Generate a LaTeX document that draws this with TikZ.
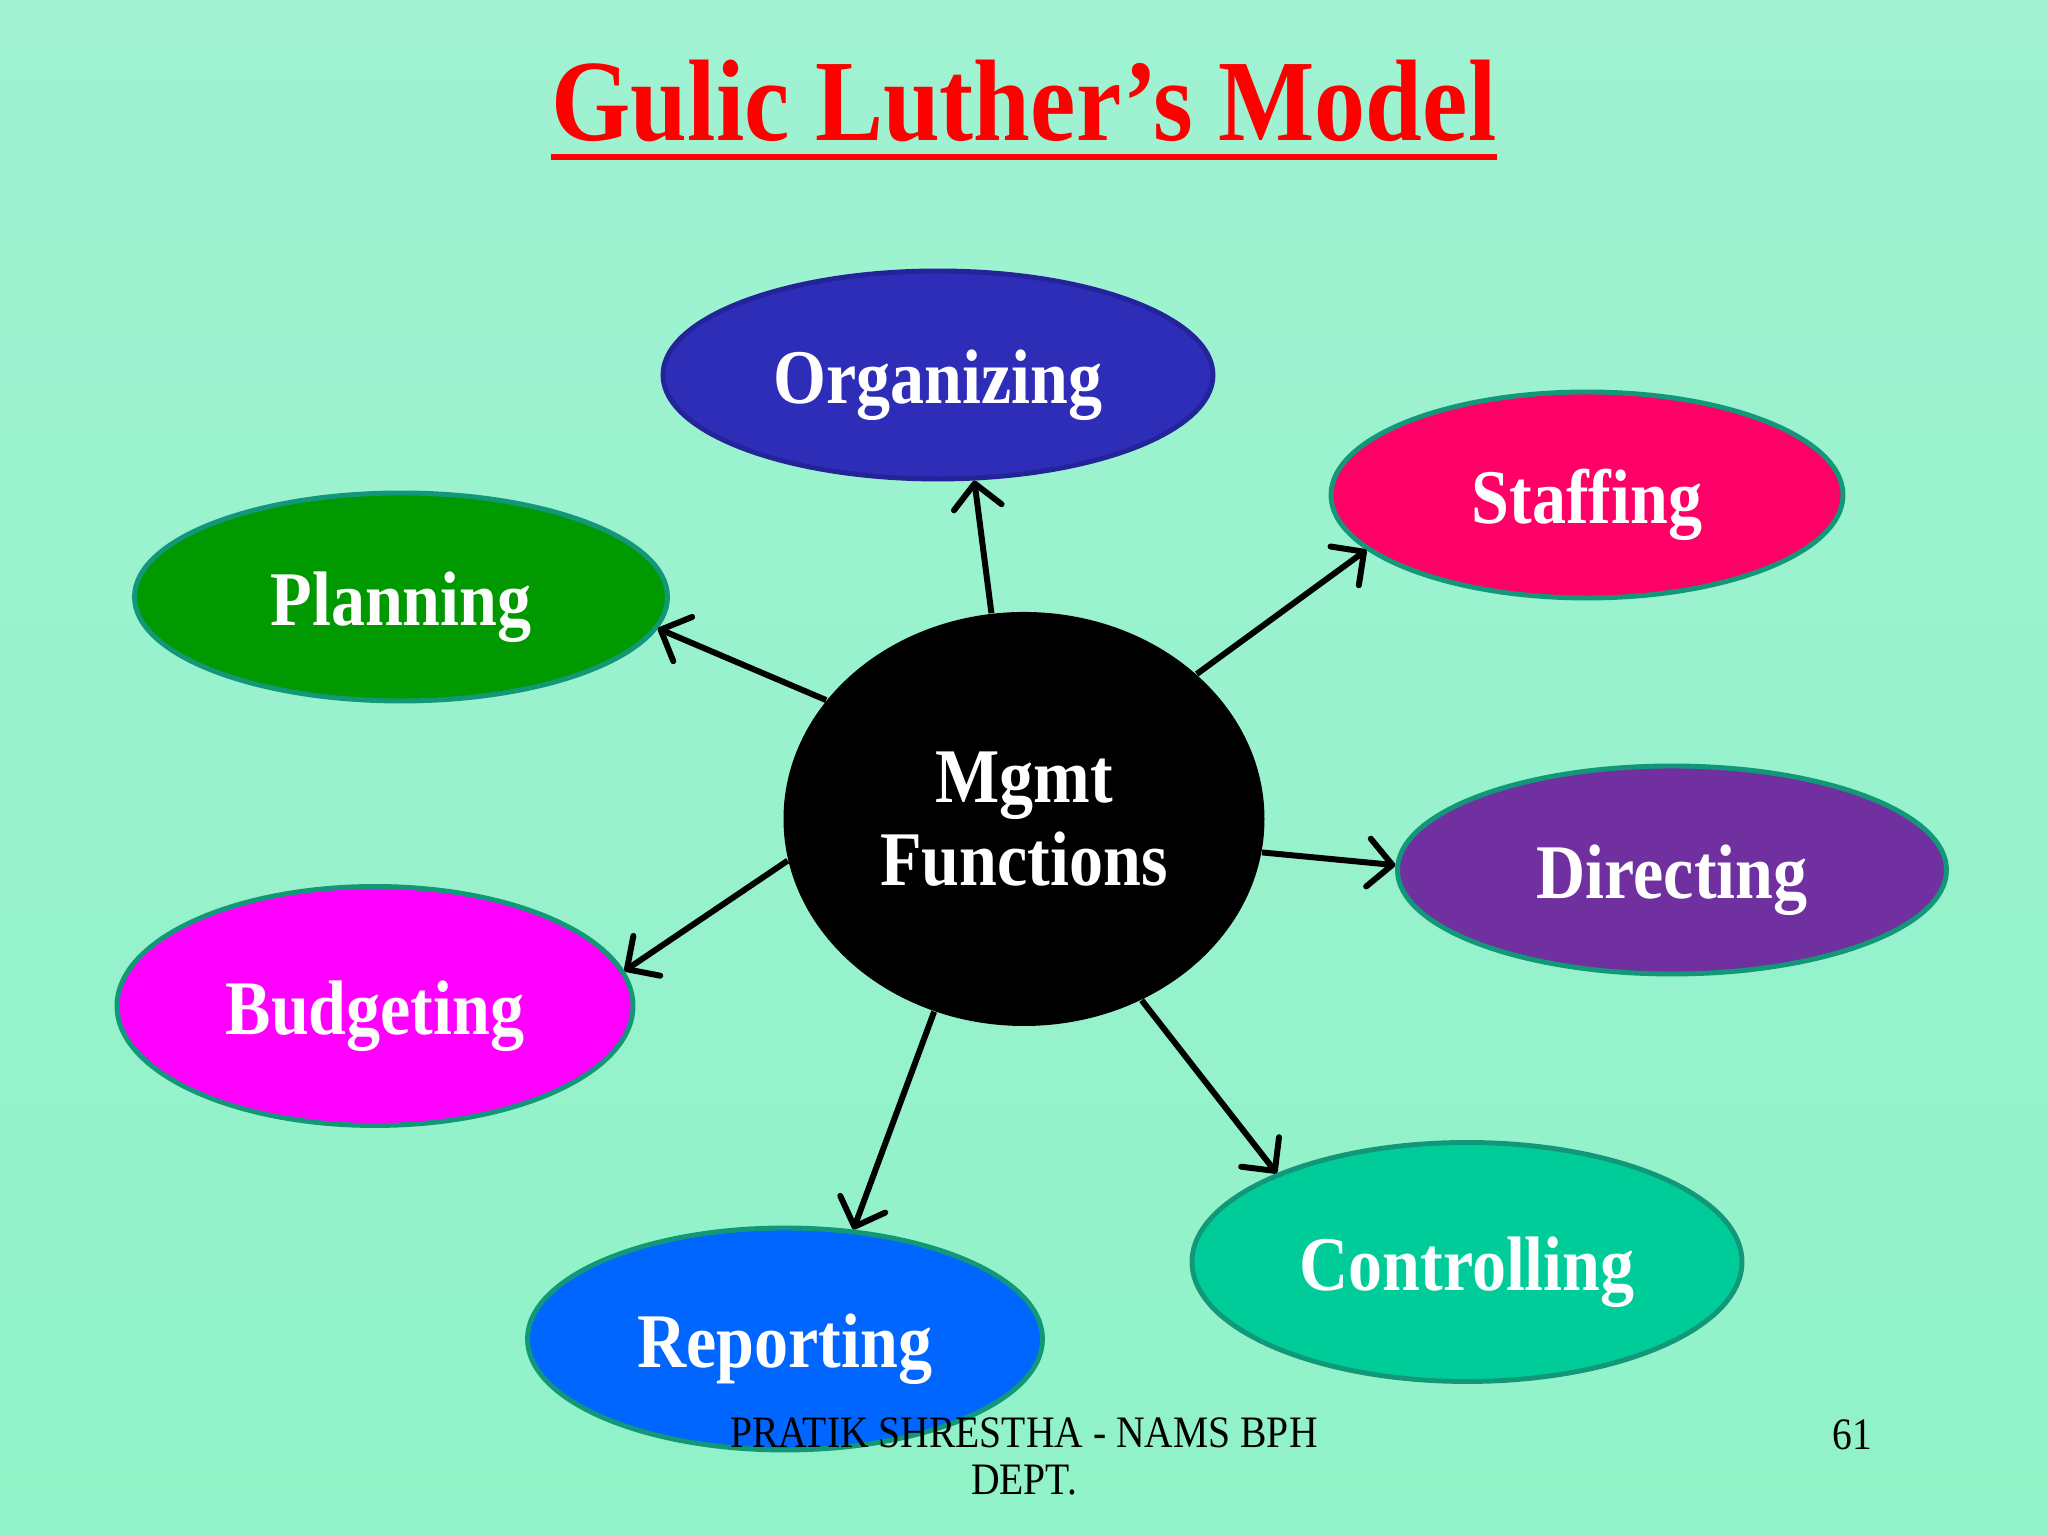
\documentclass[tikz,border=0pt]{standalone}
\usepackage{fontspec}
\setmainfont{Liberation Serif}[FakeStretch=0.88]
\usetikzlibrary{shapes.geometric,arrows.meta}
\definecolor{bgtop}{HTML}{A0F2D2}
\definecolor{bgbot}{HTML}{90F2C8}
\definecolor{rim}{HTML}{129878}
\definecolor{orgfill}{HTML}{2E2DB8}
\definecolor{orgrim}{HTML}{23239A}
\definecolor{stafffill}{HTML}{FF0066}
\definecolor{planfill}{HTML}{009900}
\definecolor{dirfill}{HTML}{7030A0}
\definecolor{budfill}{HTML}{FF00FF}
\definecolor{ctrlfill}{HTML}{00CC99}
\definecolor{repfill}{HTML}{0066FF}
\tikzset{
  func/.style={ellipse,draw=rim,line width=1.4pt,text=white,inner sep=0pt,
    text height=0.58cm,text depth=0pt,font=\fontsize{22}{24}\selectfont\bfseries},
  link/.style={-{Straight Barb[length=2.4mm,width=4.8mm,round]},line width=1.7pt}
}

\begin{document}
\begin{tikzpicture}
\shade [top color=bgtop,bottom color=bgbot] (0,0) rectangle (20.48,15.36);
\useasboundingbox (0,0) rectangle (20.48,15.36);

\node [anchor=base,inner sep=0pt,text=red,font=\fontsize{33}{36}\selectfont\bfseries] at (10.24,13.95) (title) {Gulic Luther’s Model};
\draw [red,line width=1.8pt] ([yshift=-0.16cm]title.base west) -- ([yshift=-0.16cm]title.base east);

\node [ellipse,fill=black,minimum width=4.81cm,minimum height=4.14cm,text=white,align=center,
  font=\fontsize{22}{23.5}\selectfont\bfseries] at (10.24,7.17) (mgmt) {Mgmt\\Functions};

\node [func,fill=orgfill,draw=orgrim,minimum width=5.50cm,minimum height=2.08cm] at (9.38,11.61) (org) {Organizing};
\node [func,fill=stafffill,minimum width=5.12cm,minimum height=2.06cm] at (15.87,10.41) (staff) {Staffing};
\node [func,fill=planfill,minimum width=5.33cm,minimum height=2.08cm] at (4.01,9.39) (plan) {Planning};
\node [func,fill=dirfill,minimum width=5.49cm,minimum height=2.08cm] at (16.72,6.66) (direct) {Directing};
\node [func,fill=budfill,minimum width=5.16cm,minimum height=2.39cm] at (3.75,5.30) (budget) {Budgeting};
\node [func,fill=ctrlfill,minimum width=5.50cm,minimum height=2.39cm] at (14.67,2.74) (control) {Controlling};
\node [func,fill=repfill,minimum width=5.15cm,minimum height=2.22cm] at (7.85,1.97) (report) {Reporting};

\draw [link] (mgmt.99.6) -- (org.-71.7);
\draw [link] (mgmt.40.7) -- (staff.-166.6);
\draw [link] (mgmt.149.5) -- (plan.-7.6);
\draw [link] (mgmt.-8.6) -- (direct.179.7);
\draw [link] (mgmt.190.2) -- (budget.8.6);
\draw [link] (mgmt.245.6) -- (report.58.3);
\draw [link] (mgmt.-57.4) -- (control.155.5);

\node [anchor=base,align=center,font=\fontsize{12.8}{13.4}\selectfont] at (10.24,0.41) (footer) {PRATIK SHRESTHA - NAMS BPH\\DEPT.};
\node [anchor=base,font=\fontsize{12.8}{13.4}\selectfont] at (18.52,0.86) (page) {61};
\end{tikzpicture}
\end{document}
